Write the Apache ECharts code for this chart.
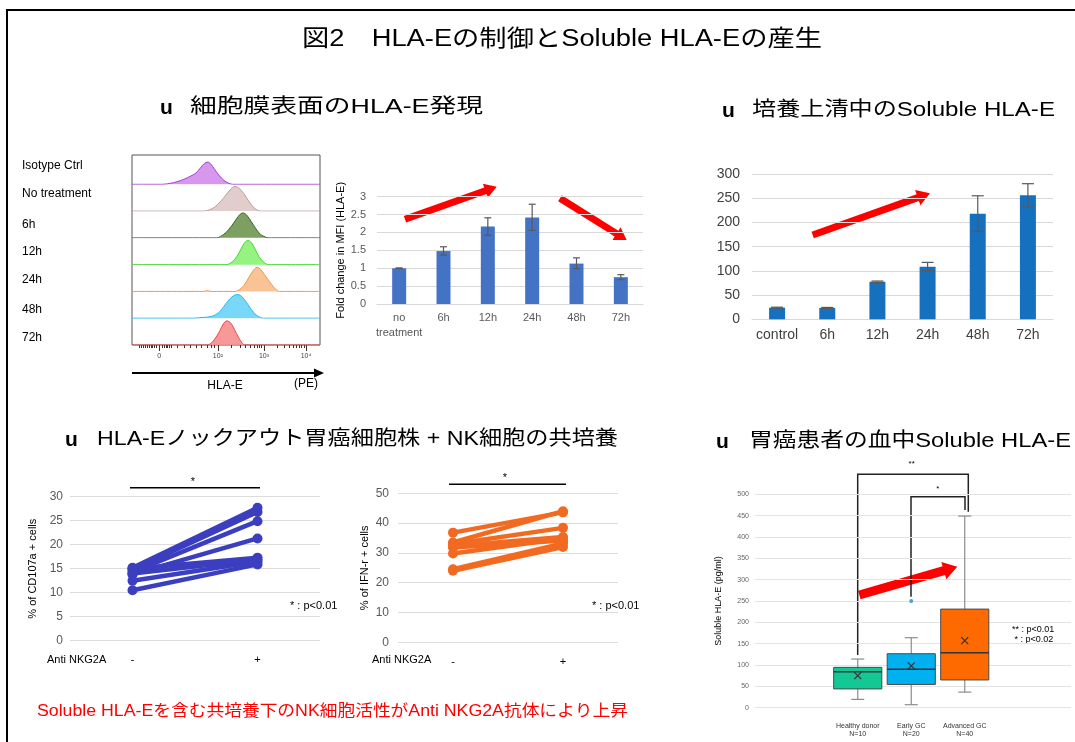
<!doctype html>
<html>
<head>
<meta charset="UTF-8">
<title>図2 HLA-Eの制御とSoluble HLA-Eの産生</title>
<script src="https://cdn.jsdelivr.net/npm/echarts@6/dist/echarts.min.js"></script>
<style>
  html, body { margin: 0; padding: 0; background: #fff; }
  #main { width: 1075px; height: 742px; }
</style>
</head>
<body>
<div id="main"></div>
<script>
var FONT = '"Liberation Sans", "Noto Sans CJK JP", sans-serif';

// ---- flow cytometry histograms (x = position on the biexponential axis, 0-100; y = normalised count)
var histNames = ['Isotype Ctrl', 'No treatment', '6h', '12h', '24h', '48h', '72h'];
var histLine = ['#a33fd2', '#b99c9c', '#3d6a24', '#45d830', '#ef9650', '#28b6ee', '#ec4a4a'];
var histFill = ['#d28ceb', '#dfc8c8', '#6e9650', '#8af273', '#f9bd8a', '#6ad4f7', '#f88d8d'];
var histCurves = [
  [[0,0],[16,0],[19,0.02],[22,0.06],[25,0.12],[28,0.2],[31,0.3],[34,0.42],[36.5,0.62],[38.5,0.78],[40.4,0.83],[42,0.75],[44,0.55],[46.5,0.32],[49,0.14],[51.5,0.04],[53.5,0],[100,0]],
  [[0,0],[38,0],[41,0.04],[44,0.15],[47,0.35],[50,0.6],[52.5,0.82],[54.8,0.92],[57,0.85],[59.5,0.65],[62,0.38],[64.5,0.15],[67,0.02],[68,0],[100,0]],
  [[0,0],[45,0],[47,0.05],[50,0.2],[53,0.45],[55.5,0.7],[57.5,0.88],[59,0.93],[61,0.85],[63.5,0.6],[66,0.33],[68.5,0.12],[71,0.03],[72.5,0],[100,0]],
  [[0,0],[50,0],[52,0.04],[54.5,0.18],[57,0.45],[59,0.72],[60.5,0.86],[61.8,0.9],[63.5,0.82],[65.5,0.58],[67.5,0.3],[70,0.1],[72.5,0],[100,0]],
  [[0,0],[38,0],[40,0.03],[42,0],[55,0],[57,0.06],[59.5,0.22],[62,0.5],[64.5,0.78],[66.5,0.9],[68.5,0.82],[70.5,0.62],[73,0.38],[75.5,0.15],[77.5,0.02],[78.5,0],[100,0]],
  [[0,0],[33,0],[36,0.02],[40,0.04],[43,0.08],[46,0.2],[49,0.45],[52,0.72],[54.5,0.86],[56.4,0.88],[58.5,0.8],[61,0.58],[63.5,0.32],[66,0.12],[68.5,0.02],[70,0],[100,0]],
  [[0,0],[40,0],[42,0.06],[44,0.22],[46.5,0.5],[48.5,0.78],[50.5,0.9],[52.5,0.82],[54.5,0.58],[56.5,0.3],[58.5,0.08],[60,0],[100,0]]
];
var histTickPos = [14.4, 45.7, 70.2, 92.6];
var histTickText = ['0', '10²', '10³', '10⁴'];

// ---- fold change in MFI
var foldCats = ['no\ntreatment', '6h', '12h', '24h', '48h', '72h'];
var foldMean = [1.0, 1.48, 2.17, 2.42, 1.13, 0.75];
var foldLow = [0.99, 1.37, 1.92, 2.06, 0.99, 0.68];
var foldHigh = [1.01, 1.60, 2.41, 2.79, 1.29, 0.82];

// ---- soluble HLA-E in supernatant
var solCats = ['control', '6h', '12h', '24h', '48h', '72h'];
var solMean = [24, 23.5, 77.5, 108.5, 218, 256];
var solLow = [23, 22.5, 76, 100.5, 182, 232];
var solHigh = [25, 24.5, 79, 117.5, 255, 280];

// ---- co-culture (Anti NKG2A - / +)
var nkCats = ['-', '+'];
var cdMinus = [15.2, 14.8, 14.3, 13.8, 15.0, 14.0, 12.5, 10.5];
var cdPlus = [27.7, 26.8, 24.9, 21.3, 17.3, 16.9, 16.5, 15.9];
var ifnMinus = [36.8, 33.5, 33.0, 32.3, 31.8, 29.8, 24.5, 24.0];
var ifnPlus = [43.6, 44.0, 38.4, 35.3, 34.2, 34.8, 33.2, 32.0];

// ---- serum soluble HLA-E box plot: [min, Q1, median, Q3, max, mean]
var boxCats = ['Healthy donor\nN=10', 'Early GC\nN=20', 'Advanced GC\nN=40'];
var boxStats = [
  [19.5, 44, 84.5, 94.5, 114, 75],
  [7, 54.5, 90, 126.5, 164, 98],
  [36.5, 65, 129, 231, 449, 157]
];
var boxColors = ['#14c896', '#00b0f0', '#ff6a00'];
var boxOutliers = [[1, 250]];

var chart = echarts.init(document.getElementById('main'));

var ctx = document.createElement('canvas').getContext('2d');
function fitText(str, left, right, y, size, color, weight) {
  var font = (weight || 'normal') + ' ' + size + 'px ' + FONT;
  ctx.font = font;
  var s = (right - left) / ctx.measureText(str).width;
  return { type: 'text', x: left, y: y, scaleX: s, silent: true,
    style: { text: str, font: font, fill: color, textAlign: 'left', textVerticalAlign: 'middle' } };
}
function txt(str, x, y, size, color, align, weight) {
  return { type: 'text', x: x, y: y, silent: true,
    style: { text: str, font: (weight || 'normal') + ' ' + size + 'px ' + FONT, fill: color || '#000',
      textAlign: align || 'left', textVerticalAlign: 'middle' } };
}
function poly(points, color, width) {
  return { type: 'polyline', silent: true, shape: { points: points }, style: { stroke: color, lineWidth: width, fill: null } };
}
function arrow(x1, y1, x2, y2, w, hw, hl) {
  var dx = x2 - x1, dy = y2 - y1, len = Math.sqrt(dx * dx + dy * dy);
  var ux = dx / len, uy = dy / len, nx = -uy, ny = ux;
  var bx = x2 - ux * hl, by = y2 - uy * hl;
  return { type: 'polygon', silent: true, style: { fill: '#ff0000' }, shape: { points: [
    [x1 + nx * w / 2, y1 + ny * w / 2], [bx + nx * w / 2, by + ny * w / 2], [bx + nx * hw / 2, by + ny * hw / 2],
    [x2, y2], [bx - nx * hw / 2, by - ny * hw / 2], [bx - nx * w / 2, by - ny * w / 2], [x1 - nx * w / 2, y1 - ny * w / 2]
  ] } };
}
function errorItem(capW) {
  return function (params, api) {
    var x = api.value(0);
    var lo = api.coord([x, api.value(1)]), hi = api.coord([x, api.value(2)]);
    var st = { stroke: '#595959', lineWidth: 1.2 };
    return { type: 'group', children: [
      { type: 'line', shape: { x1: hi[0], y1: hi[1], x2: lo[0], y2: lo[1] }, style: st },
      { type: 'line', shape: { x1: hi[0] - capW / 2, y1: hi[1], x2: hi[0] + capW / 2, y2: hi[1] }, style: st },
      { type: 'line', shape: { x1: lo[0] - capW / 2, y1: lo[1], x2: lo[0] + capW / 2, y2: lo[1] }, style: st }
    ] };
  };
}

var grid = [], xAxis = [], yAxis = [], series = [];

// histogram frame (grid 0) with log-like tick marks
grid.push({ left: 132, top: 155, width: 188, height: 190, show: true, borderColor: '#555', borderWidth: 1 });
var minorTicks = [4, 5, 6, 7, 8, 9, 10, 11, 12, 13, 16, 17, 18, 19, 20, 21, 24, 28, 31, 34, 37, 40, 42, 44,
  53, 57.5, 60.5, 62.8, 64.8, 66.4, 67.8, 69, 77, 81, 83.7, 85.6, 87.4, 88.8, 90.2, 91.4];
xAxis.push({ gridIndex: 0, type: 'value', position: 'bottom', min: 0, max: 100, splitLine: { show: false }, axisLine: { show: false },
  axisTick: { customValues: histTickPos, length: 6, lineStyle: { color: '#333' } },
  axisLabel: { customValues: histTickPos, fontSize: 7, color: '#444', margin: 8, fontFamily: FONT,
    formatter: function (v) { var i = histTickPos.indexOf(v); return i >= 0 ? histTickText[i] : ''; } } });
xAxis.push({ gridIndex: 0, type: 'value', position: 'bottom', min: 0, max: 100, splitLine: { show: false }, axisLine: { show: false },
  axisTick: { customValues: minorTicks, length: 3, lineStyle: { color: '#333' } }, axisLabel: { show: false } });
yAxis.push({ gridIndex: 0, min: 0, max: 1, show: false });

// histogram rows (grids 1-7)
histNames.forEach(function (name, i) {
  var bottom = 184.3 + i * 26.78;
  grid.push({ left: 132, width: 188, top: bottom - 26.8, height: 26.8 });
  xAxis.push({ gridIndex: i + 1, type: 'value', min: 0, max: 100, show: false });
  yAxis.push({ gridIndex: i + 1, type: 'value', min: 0, max: 1, show: false });
  series.push({ type: 'line', name: name, xAxisIndex: i + 2, yAxisIndex: i + 1, data: histCurves[i],
    smooth: 0.3, showSymbol: false, lineStyle: { color: histLine[i], width: 1 },
    areaStyle: { color: histFill[i], opacity: 0.9 } });
});

// fold change bar chart (grid 8)
grid.push({ left: 377, top: 196.7, width: 266, height: 107.3 });
xAxis.push({ gridIndex: 8, type: 'category', data: foldCats, axisTick: { show: false },
  axisLine: { lineStyle: { color: '#d9d9d9' } },
  axisLabel: { interval: 0, fontSize: 11, color: '#595959', margin: 6, lineHeight: 15, fontFamily: FONT } });
yAxis.push({ gridIndex: 8, type: 'value', min: 0, max: 3, interval: 0.5,
  axisLabel: { fontSize: 11, color: '#595959', margin: 11, fontFamily: FONT },
  splitLine: { lineStyle: { color: '#d9d9d9' } },
  name: 'Fold change in MFI (HLA-E)', nameLocation: 'middle', nameRotate: 90, nameGap: 28,
  nameTextStyle: { fontSize: 11, color: '#000', fontFamily: FONT } });
series.push({ type: 'bar', xAxisIndex: 9, yAxisIndex: 8, data: foldMean, barWidth: 14, itemStyle: { color: '#4472c4' } });
series.push({ type: 'custom', xAxisIndex: 9, yAxisIndex: 8, renderItem: errorItem(7), z: 5,
  encode: { x: 0, y: [1, 2] }, data: foldCats.map(function (c, i) { return [i, foldLow[i], foldHigh[i]]; }) });

// soluble HLA-E bar chart (grid 9)
grid.push({ left: 752, top: 174, width: 301, height: 145.3 });
xAxis.push({ gridIndex: 9, type: 'category', data: solCats, axisTick: { show: false },
  axisLine: { lineStyle: { color: '#d9d9d9' } },
  axisLabel: { interval: 0, fontSize: 14, color: '#404040', margin: 9, fontFamily: FONT } });
yAxis.push({ gridIndex: 9, type: 'value', min: 0, max: 300, interval: 50,
  axisLabel: { fontSize: 14, color: '#404040', margin: 12, fontFamily: FONT },
  splitLine: { lineStyle: { color: '#d9d9d9' } } });
series.push({ type: 'bar', xAxisIndex: 10, yAxisIndex: 9, data: solMean, barWidth: 16, itemStyle: { color: '#1670c0' } });
series.push({ type: 'custom', xAxisIndex: 10, yAxisIndex: 9, renderItem: errorItem(12), z: 5,
  encode: { x: 0, y: [1, 2] }, data: solCats.map(function (c, i) { return [i, solLow[i], solHigh[i]]; }) });

// CD107a (grid 10) and IFN-r (grid 11) paired lines; grid n uses yAxis n and xAxis n + 1
function pairedChart(gi, box, yMax, yInt, yName, nameGap, labelMargin, minus, plus, color) {
  grid.push(box);
  xAxis.push({ gridIndex: gi, type: 'category', data: nkCats, axisTick: { show: false }, axisLine: { show: false },
    axisLabel: { interval: 0, fontSize: 11, color: '#000', margin: 14, fontFamily: FONT } });
  yAxis.push({ gridIndex: gi, type: 'value', min: 0, max: yMax, interval: yInt,
    axisLabel: { fontSize: 12, color: '#595959', margin: labelMargin, fontFamily: FONT },
    splitLine: { lineStyle: { color: '#dcdcdc' } },
    name: yName, nameLocation: 'middle', nameRotate: 90, nameGap: nameGap,
    nameTextStyle: { fontSize: 11, color: '#000', fontFamily: FONT } });
  minus.forEach(function (m, i) {
    series.push({ type: 'line', xAxisIndex: gi + 1, yAxisIndex: gi, data: [m, plus[i]], symbol: 'circle',
      symbolSize: 10, lineStyle: { color: color, width: 4.5 }, itemStyle: { color: color } });
  });
}
pairedChart(10, { left: 70, top: 496.7, width: 250, height: 144 }, 30, 5, '% of CD107a + cells', 32, 7,
  cdMinus, cdPlus, '#3b3fbf');
pairedChart(11, { left: 398, top: 493.3, width: 220, height: 149 }, 50, 10, '% of IFN-r + cells', 28, 9,
  ifnMinus, ifnPlus, '#f26a21');

// box plot: gridlines (grid 12) + boxes (grid 13)
grid.push({ left: 755, top: 494.3, width: 316, height: 213.4 });
xAxis.push({ gridIndex: 12, type: 'value', min: 0, max: 1, show: false });
yAxis.push({ gridIndex: 12, type: 'value', min: 0, max: 500, interval: 50,
  axisLine: { show: false }, axisTick: { show: false },
  axisLabel: { fontSize: 7, color: '#666', margin: 6, fontFamily: FONT },
  splitLine: { lineStyle: { color: '#e3e3e3' } },
  name: 'Soluble HLA-E (pg/ml)', nameLocation: 'middle', nameRotate: 90, nameGap: 32,
  nameTextStyle: { fontSize: 9, color: '#000', fontFamily: FONT } });
grid.push({ left: 831, top: 494.3, width: 160.5, height: 213.4 });
xAxis.push({ gridIndex: 13, type: 'category', data: boxCats, axisTick: { show: false }, axisLine: { show: false },
  axisLabel: { interval: 0, fontSize: 7, color: '#333', margin: 14, lineHeight: 8, fontFamily: FONT } });
yAxis.push({ gridIndex: 13, type: 'value', min: 0, max: 500, show: false });
series.push({ type: 'custom', xAxisIndex: 14, yAxisIndex: 13, encode: { x: 0, y: [1, 2, 3, 4, 5, 6] },
  data: boxStats.map(function (s, i) { return [i].concat(s); }),
  renderItem: function (params, api) {
    var x = api.value(0);
    var p = [1, 2, 3, 4, 5, 6].map(function (k) { return api.coord([x, api.value(k)]); });
    var cx = p[0][0], bw = api.size([1, 0])[0] * 0.9, cap = 13;
    var wl = { stroke: '#8c8c8c', lineWidth: 1.2 };
    var mk = { stroke: '#333', lineWidth: 1.2 };
    return { type: 'group', children: [
      { type: 'line', shape: { x1: cx, y1: p[4][1], x2: cx, y2: p[3][1] }, style: wl },
      { type: 'line', shape: { x1: cx, y1: p[1][1], x2: cx, y2: p[0][1] }, style: wl },
      { type: 'line', shape: { x1: cx - cap / 2, y1: p[4][1], x2: cx + cap / 2, y2: p[4][1] }, style: wl },
      { type: 'line', shape: { x1: cx - cap / 2, y1: p[0][1], x2: cx + cap / 2, y2: p[0][1] }, style: wl },
      { type: 'rect', shape: { x: cx - bw / 2, y: p[3][1], width: bw, height: p[1][1] - p[3][1] },
        style: { fill: boxColors[x], stroke: '#4a4a4a', lineWidth: 1 } },
      { type: 'line', shape: { x1: cx - bw / 2, y1: p[2][1], x2: cx + bw / 2, y2: p[2][1] }, style: { stroke: '#333', lineWidth: 1.5 } },
      { type: 'line', shape: { x1: cx - 3.5, y1: p[5][1] - 3.5, x2: cx + 3.5, y2: p[5][1] + 3.5 }, style: mk },
      { type: 'line', shape: { x1: cx - 3.5, y1: p[5][1] + 3.5, x2: cx + 3.5, y2: p[5][1] - 3.5 }, style: mk }
    ] };
  } });
series.push({ type: 'scatter', xAxisIndex: 14, yAxisIndex: 13, data: boxOutliers, symbolSize: 4,
  itemStyle: { color: '#1f8fd0' } });

// titles, labels and annotations
var graphic = [
  poly([[7, 742], [7, 10], [1075, 10]], '#000', 2),
  fitText('図2　HLA-Eの制御とSoluble HLA-Eの産生', 302, 822, 40, 23, '#000'),
  txt('u', 160, 108, 21, '#000', 'left', 'bold'),
  fitText('細胞膜表面のHLA-E発現', 190, 483, 107, 20, '#000'),
  txt('u', 722, 111, 21, '#000', 'left', 'bold'),
  fitText('培養上清中のSoluble HLA-E', 752, 1055, 110, 20, '#000'),
  txt('u', 65, 440, 21, '#000', 'left', 'bold'),
  fitText('HLA-Eノックアウト胃癌細胞株 + NK細胞の共培養', 97, 618, 439, 20, '#000'),
  txt('u', 716, 442, 21, '#000', 'left', 'bold'),
  fitText('胃癌患者の血中Soluble HLA-E', 749, 1071, 441, 20, '#000'),
  fitText('Soluble HLA-Eを含む共培養下のNK細胞活性がAnti NKG2A抗体により上昇', 37, 628, 712, 16, '#ff0000'),
  // histogram axis arrow and labels
  poly([[132, 373], [316, 373]], '#000', 2),
  { type: 'polygon', silent: true, shape: { points: [[314, 368.5], [324, 373], [314, 377.5]] }, style: { fill: '#000' } },
  txt('HLA-E', 225, 386, 12, '#000', 'center'),
  txt('(PE)', 306, 384, 12, '#000', 'center'),
  // red trend arrows
  arrow(405, 219.3, 496.7, 186.7, 7, 15, 12),
  arrow(560, 198.3, 626.7, 240, 7, 15, 12),
  arrow(812.7, 235, 930, 193.3, 7, 16, 13),
  arrow(859.3, 595, 957.3, 566.7, 9, 18, 14),
  // significance
  poly([[130, 487.7], [260, 487.7]], '#000', 1.5),
  txt('*', 193, 482, 11, '#000', 'center'),
  txt('* : p<0.01', 290, 606, 11, '#000'),
  txt('Anti NKG2A', 47, 660, 11, '#000'),
  poly([[449, 484.3], [566, 484.3]], '#000', 1.5),
  txt('*', 505, 478, 11, '#000', 'center'),
  txt('* : p<0.01', 592, 606, 11, '#000'),
  txt('Anti NKG2A', 372, 660, 11, '#000'),
  poly([[857.7, 655], [857.7, 474.3], [968.3, 474.3], [968.3, 511.7]], '#222', 1.5),
  poly([[911, 596.7], [911, 496.7], [965, 496.7], [965, 510]], '#222', 1.5),
  txt('**', 911.7, 464, 8, '#000', 'center'),
  txt('*', 937.7, 489, 8, '#000', 'center'),
  txt('** : p<0.01', 1012, 629.5, 9, '#000'),
  txt(' * : p<0.02', 1012, 639.5, 9, '#000')
];
histNames.forEach(function (name, i) {
  graphic.push(txt(name, 22, [166, 194, 225, 252, 280, 310, 338][i], 12, '#000'));
});

chart.setOption({
  animation: false,
  backgroundColor: '#fff',
  grid: grid,
  xAxis: xAxis,
  yAxis: yAxis,
  series: series,
  graphic: graphic
});
</script>
</body>
</html>
